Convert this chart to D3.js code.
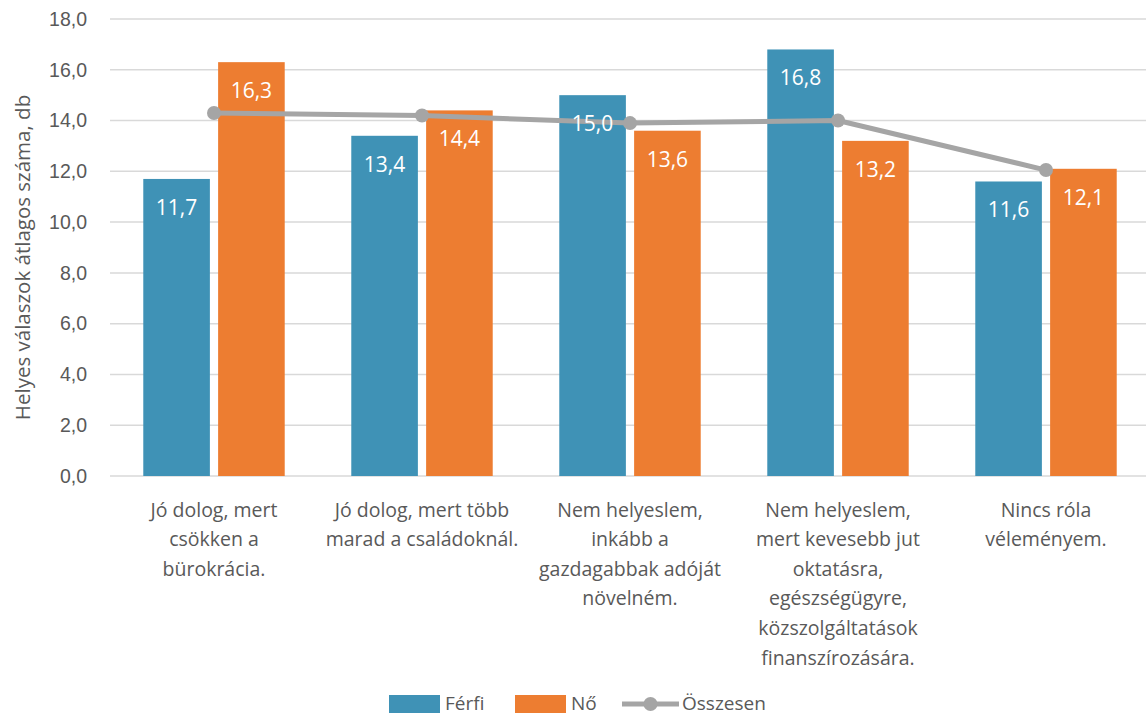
<!DOCTYPE html>
<html>
<head>
<meta charset="utf-8">
<script src="https://cdn.jsdelivr.net/npm/d3@7"></script>
<style>
  body { margin: 0; background: #fff; }
  svg { font-family: "Open Sans", "Noto Sans", sans-serif; }
</style>
</head>
<body>
<div id="chart"></div>
<script>
// category labels, line breaks as in the original
var categories = [
  "Jó dolog, mert\ncsökken a\nbürokrácia.",
  "Jó dolog, mert több\nmarad a családoknál.",
  "Nem helyeslem,\ninkább a\ngazdagabbak adóját\nnövelném.",
  "Nem helyeslem,\nmert kevesebb jut\noktatásra,\negészségügyre,\nközszolgáltatások\nfinanszírozására.",
  "Nincs róla\nvéleményem."
];
var ferfi = [11.7, 13.4, 15.0, 16.8, 11.6];
var no = [16.3, 14.4, 13.6, 13.2, 12.1];
var osszesen = [14.3, 14.2, 13.9, 14.0, 12.05];
var yTicks = [0, 2, 4, 6, 8, 10, 12, 14, 16, 18];
var seriesNames = ["Férfi", "Nő"];

var colors = { "Férfi": "#3f92b6", "Nő": "#ed7d31" };
var lineColor = "#a5a5a5";

var W = 1146, H = 717;
var margin = {top: 19, right: -4, bottom: 241, left: 110};
var width = W - margin.left - margin.right,
    height = H - margin.top - margin.bottom;

var svg = d3.select("#chart")
  .append("svg")
    .attr("width", W)
    .attr("height", H)
  .append("g")
    .attr("transform", "translate(" + margin.left + "," + margin.top + ")");

var y = d3.scaleLinear()
  .domain([0, 18])
  .range([height, 0]);

var x0 = d3.scaleBand()
  .domain(d3.range(categories.length))
  .range([0, width])
  .padding(0);

var x1 = d3.scaleBand()
  .domain(seriesNames)
  .range([x0.bandwidth() * 0.16, x0.bandwidth() * 0.84])
  .paddingInner(0.11);

var fmt = function (d) { return d3.format(".1f")(d).replace(".", ","); };

// gridlines
svg.append("g")
  .selectAll("line")
  .data(yTicks)
  .enter()
  .append("line")
    .attr("x1", 0)
    .attr("x2", width)
    .attr("y1", function (d) { return y(d); })
    .attr("y2", function (d) { return y(d); })
    .attr("stroke", "#d9d9d9")
    .attr("stroke-width", 1.5);

// y axis labels
var yAxis = d3.axisLeft(y)
  .tickValues(yTicks)
  .tickSize(0)
  .tickPadding(23)
  .tickFormat(fmt);
var yg = svg.append("g").call(yAxis);
yg.select(".domain").remove();
yg.selectAll("text")
  .attr("fill", "#595959")
  .style("font-size", "19.5px");

// axis title
svg.append("text")
  .attr("transform", "translate(" + (22 - margin.left) + "," + (height / 2 + 10) + ") rotate(-90)")
  .attr("text-anchor", "middle")
  .attr("dominant-baseline", "central")
  .attr("fill", "#595959")
  .style("font-size", "20.5px")
  .text("Helyes válaszok átlagos száma, db");

// bars
var barData = [];
categories.forEach(function (c, i) {
  barData.push({i: i, s: "Férfi", v: ferfi[i]});
  barData.push({i: i, s: "Nő", v: no[i]});
});

svg.selectAll("myRect")
  .data(barData)
  .enter()
  .append("rect")
    .attr("x", function (d) { return x0(d.i) + x1(d.s); })
    .attr("y", function (d) { return y(d.v); })
    .attr("width", x1.bandwidth())
    .attr("height", function (d) { return height - y(d.v); })
    .attr("fill", function (d) { return colors[d.s]; });

// total line
var line = d3.line()
  .x(function (d, i) { return x0(i) + x0.bandwidth() / 2; })
  .y(function (d) { return y(d); });

svg.append("path")
  .datum(osszesen)
  .attr("d", line)
  .attr("fill", "none")
  .attr("stroke", lineColor)
  .attr("stroke-width", 5)
  .attr("stroke-linejoin", "round");

svg.selectAll("dot")
  .data(osszesen)
  .enter()
  .append("circle")
    .attr("cx", function (d, i) { return x0(i) + x0.bandwidth() / 2; })
    .attr("cy", function (d) { return y(d); })
    .attr("r", 7)
    .attr("fill", lineColor);

// bar value labels (on top of the line)
svg.selectAll("barLabel")
  .data(barData)
  .enter()
  .append("text")
    .attr("x", function (d) { return x0(d.i) + x1(d.s) + x1.bandwidth() / 2; })
    .attr("y", function (d) { return y(d.v) + 28; })
    .attr("text-anchor", "middle")
    .attr("dominant-baseline", "central")
    .attr("fill", "#fff")
    .style("font-size", "21px")
    .text(function (d) { return fmt(d.v); });

// category labels
var catG = svg.append("g")
  .selectAll("g")
  .data(categories)
  .enter()
  .append("text")
    .attr("text-anchor", "middle")
    .attr("fill", "#595959")
    .style("font-size", "19.5px")
    .attr("transform", function (d, i) {
      return "translate(" + (x0(i) + x0.bandwidth() / 2) + "," + (height + 33) + ")";
    });
catG.selectAll("tspan")
  .data(function (d) { return d.split("\n"); })
  .enter()
  .append("tspan")
    .attr("x", 0)
    .attr("y", function (d, i) { return i * 29.6; })
    .attr("dominant-baseline", "central")
    .text(function (d) { return d; });

// legend
var legendItems = [
  {name: "Férfi", type: "rect", x: 389},
  {name: "Nő", type: "rect", x: 515},
  {name: "Összesen", type: "line", x: 622}
];
var legend = d3.select("svg").append("g")
  .selectAll("g")
  .data(legendItems)
  .enter()
  .append("g")
    .attr("transform", function (d) { return "translate(" + d.x + ",703)"; });

legend.filter(function (d) { return d.type === "rect"; })
  .append("rect")
    .attr("x", 0)
    .attr("y", -8)
    .attr("width", 51)
    .attr("height", 18)
    .attr("fill", function (d) { return colors[d.name]; });

var lg = legend.filter(function (d) { return d.type === "line"; });
lg.append("line")
  .attr("x1", 0).attr("x2", 57)
  .attr("y1", 1).attr("y2", 1)
  .attr("stroke", lineColor)
  .attr("stroke-width", 5);
lg.append("circle")
  .attr("cx", 28.5).attr("cy", 1).attr("r", 7)
  .attr("fill", lineColor);

legend.append("text")
  .attr("x", function (d) { return d.type === "rect" ? 56 : 60; })
  .attr("y", 0)
  .attr("dominant-baseline", "central")
  .attr("fill", "#595959")
  .style("font-size", "19px")
  .text(function (d) { return d.name; });
</script>
</body>
</html>
